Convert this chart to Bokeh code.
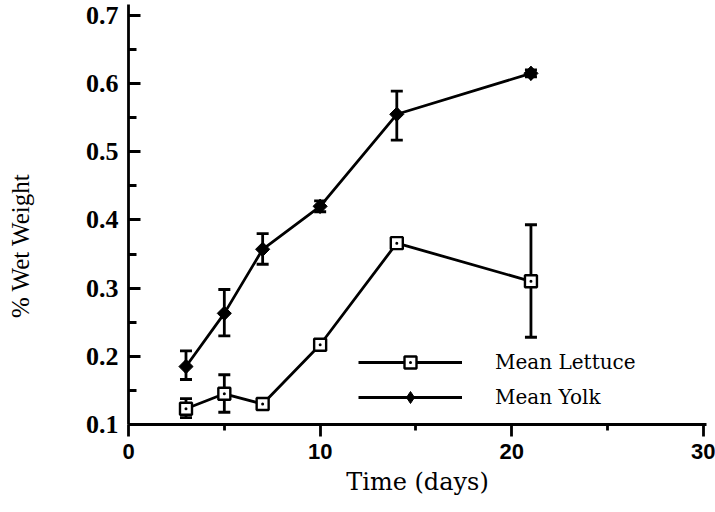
import math
from bokeh.plotting import figure
from bokeh.models import (ColumnDataSource, Whisker, TeeHead, FixedTicker, Legend,
                          LegendItem, Range1d)
from bokeh.embed import file_html
from bokeh.resources import INLINE

# ---- data ----
days = [3, 5, 7, 10, 14, 21]
lettuce = [0.123, 0.145, 0.130, 0.217, 0.366, 0.310]
lettuce_lo = [0.110, 0.118, 0.130, 0.217, 0.366, 0.228]
lettuce_hi = [0.138, 0.173, 0.130, 0.217, 0.366, 0.393]
yolk = [0.185, 0.263, 0.357, 0.420, 0.555, 0.615]
yolk_lo = [0.166, 0.230, 0.335, 0.412, 0.517, 0.610]
yolk_hi = [0.208, 0.298, 0.380, 0.428, 0.589, 0.620]

x_ticks = [0, 10, 20, 30]
x_minor = [5, 15, 25]
y_ticks = [0.1, 0.2, 0.3, 0.4, 0.5, 0.6, 0.7]
y_minor = [0.15, 0.25, 0.35, 0.45, 0.55, 0.65]

x_title = "Time (days)"
y_title = "% Wet Weight"
series_names = ["Mean Lettuce", "Mean Yolk"]

src_l = ColumnDataSource(dict(x=days, y=lettuce, lo=lettuce_lo, hi=lettuce_hi))
src_y = ColumnDataSource(dict(x=days, y=yolk, lo=yolk_lo, hi=yolk_hi))

p = figure(width=715, height=512, output_backend="svg", toolbar_location=None,
           x_range=Range1d(0, 30.16), y_range=Range1d(0.1, 0.716),
           min_border_left=128, min_border_right=9, min_border_top=4, min_border_bottom=88)
p.outline_line_color = None
p.xgrid.visible = False
p.ygrid.visible = False
p.background_fill_color = "white"
p.border_fill_color = "white"

LW = 2.8
# lines
l_line = p.line("x", "y", source=src_l, line_color="black", line_width=LW)
y_line = p.line("x", "y", source=src_y, line_color="black", line_width=LW)

# error bars
for src in (src_l, src_y):
    w = Whisker(source=src, base="x", lower="lo", upper="hi", dimension="height",
                line_color="black", line_width=LW,
                upper_head=TeeHead(size=12, line_color="black", line_width=LW),
                lower_head=TeeHead(size=12, line_color="black", line_width=LW))
    p.add_layout(w)

# markers
l_mark = p.scatter("x", "y", source=src_l, marker="square_dot", size=12,
                   line_color="black", fill_color="white", line_width=2.4)
p.scatter("x", "y", source=src_y, marker="square", angle=math.pi / 4, size=10,
          line_color="black", fill_color="black", line_width=1)
y_mark = p.scatter("x", "y", source=src_y, marker="diamond", size=14,
                   line_color="black", fill_color="black", line_width=1)

# axes
xa = p.xaxis[0]
xa.ticker = FixedTicker(ticks=x_ticks, minor_ticks=x_minor)
xa.axis_line_width = LW
xa.major_tick_line_width = LW
xa.minor_tick_line_width = LW
xa.major_tick_in = 0
xa.major_tick_out = 12
xa.minor_tick_in = 0
xa.minor_tick_out = 6
xa.major_label_standoff = 7
xa.major_label_text_font = "Liberation Sans"
xa.major_label_text_font_style = "bold"
xa.major_label_text_font_size = "22px"
xa.major_label_text_color = "black"
xa.axis_label = x_title
xa.axis_label_text_font = "DejaVu Serif"
xa.axis_label_text_font_style = "normal"
xa.axis_label_text_font_size = "24px"
xa.axis_label_text_color = "black"
xa.axis_label_standoff = 6

ya = p.yaxis[0]
ya.ticker = FixedTicker(ticks=y_ticks, minor_ticks=y_minor)
ya.axis_line_width = LW
ya.major_tick_line_width = LW
ya.minor_tick_line_width = LW
ya.major_tick_in = 12
ya.major_tick_out = 0
ya.minor_tick_in = 8
ya.minor_tick_out = 0
ya.major_label_standoff = 10
ya.major_label_text_font = "Liberation Serif"
ya.major_label_text_font_style = "bold"
ya.major_label_text_font_size = "26px"
ya.major_label_text_color = "black"
# trailing no-break spaces shift the visible title below the frame centre, as in the reference
ya.axis_label = y_title + "\u00a0" * 10
ya.axis_label_text_font = "Liberation Serif"
ya.axis_label_text_font_style = "normal"
ya.axis_label_text_font_size = "25px"
ya.axis_label_text_color = "black"
ya.axis_label_standoff = 49

legend = Legend(items=[LegendItem(label=series_names[0], renderers=[l_line, l_mark]),
                       LegendItem(label=series_names[1], renderers=[y_line, y_mark])],
                location=(230, 12), glyph_width=104, glyph_height=30, spacing=5,
                label_standoff=33, padding=0, margin=0,
                border_line_color=None, background_fill_alpha=0,
                label_text_font="DejaVu Serif", label_text_font_size="20px",
                label_text_color="black", label_text_baseline="middle")
p.add_layout(legend, "center")

open("out.html", "w").write(file_html(p, INLINE))
